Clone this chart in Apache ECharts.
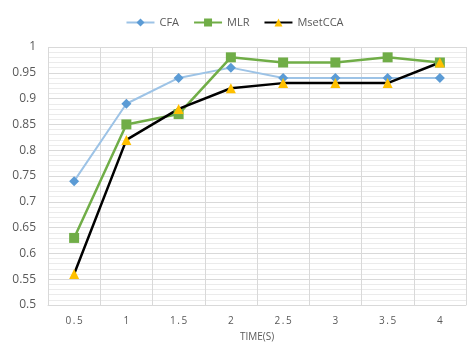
<!DOCTYPE html>
<html>
<head>
<meta charset="utf-8">
<script src="https://cdn.jsdelivr.net/npm/echarts@6/dist/echarts.min.js"></script>
<style>
html,body{margin:0;padding:0;background:#fff;}
#main{width:469px;height:343px;}
</style>
</head>
<body>
<div id="main"></div>
<script>
var categories = ['0.5', '1', '1.5', '2', '2.5', '3', '3.5', '4'];
var cfa = [0.74, 0.89, 0.94, 0.96, 0.94, 0.94, 0.94, 0.94];
var mlr = [0.63, 0.85, 0.87, 0.98, 0.97, 0.97, 0.98, 0.97];
var msetcca = [0.56, 0.82, 0.88, 0.92, 0.93, 0.93, 0.93, 0.97];

var myChart = echarts.init(document.getElementById('main'));
var txt = '#595959';
var option = {
    animation: false,
    textStyle: { fontFamily: 'Open Sans' },
    legend: {
        top: 12,
        left: 'center',
        itemWidth: 28,
        itemHeight: 10,
        itemGap: 14,
        textStyle: { color: txt, fontSize: 11 },
        data: ['CFA', 'MLR', 'MsetCCA']
    },
    grid: { left: 48, right: 3, top: 47, bottom: 38, containLabel: false, outerBoundsMode: 'none' },
    xAxis: {
        type: 'category',
        data: categories,
        name: 'TIME(S)',
        nameLocation: 'middle',
        nameGap: 27,
        nameTextStyle: { color: txt, fontSize: 10 },
        axisLabel: {
            color: txt, fontSize: 10, margin: 11,
            // reference spaces the digits out
            formatter: function (v) { return v.split('').join('\u2009'); }
        },
        axisTick: { show: false },
        axisLine: { lineStyle: { color: '#d9d9d9' } },
        splitLine: { show: true, lineStyle: { color: '#d9d9d9' } }
    },
    yAxis: {
        type: 'value',
        min: 0.5,
        max: 1,
        interval: 0.05,
        name: 'F-SCORE',
        nameLocation: 'middle',
        nameGap: 36,
        nameTextStyle: { color: txt, fontSize: 10 },
        axisLabel: {
            color: txt, fontSize: 12, margin: 12,
            formatter: function (v) { return String(Math.round(v * 100) / 100); }
        },
        axisLine: { show: false },
        axisTick: { show: false },
        splitLine: { lineStyle: { color: '#d9d9d9' } },
        minorTick: { show: false, splitNumber: 5 },
        minorSplitLine: { show: true, lineStyle: { color: '#ebebeb' } }
    },
    series: [
        {
            name: 'CFA',
            type: 'line',
            data: cfa,
            symbol: 'diamond',
            symbolSize: 10,
            itemStyle: { color: '#5b9bd5' },
            lineStyle: { color: '#9dc3e6', width: 2 }
        },
        {
            name: 'MLR',
            type: 'line',
            data: mlr,
            symbol: 'rect',
            symbolSize: 10,
            itemStyle: { color: '#70ad47' },
            lineStyle: { color: '#70ad47', width: 2.5 }
        },
        {
            name: 'MsetCCA',
            type: 'line',
            data: msetcca,
            symbol: 'triangle',
            symbolSize: 10,
            itemStyle: { color: '#ffc000' },
            lineStyle: { color: '#000000', width: 2.5 }
        }
    ]
};
myChart.setOption(option);
</script>
</body>
</html>
